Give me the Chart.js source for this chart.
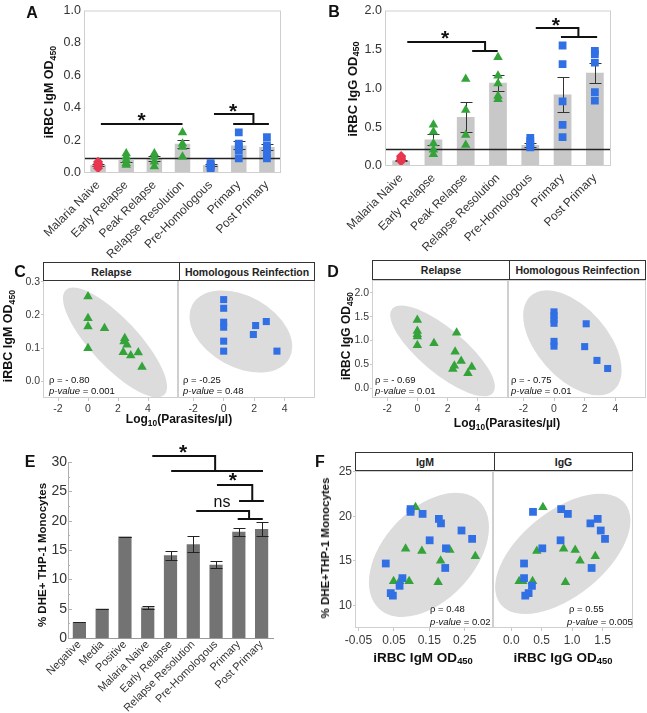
<!DOCTYPE html>
<html>
<head>
<meta charset="utf-8">
<script src="https://cdn.jsdelivr.net/npm/chart.js@4.4.1/dist/chart.umd.min.js"></script>
<style>
body { margin: 0; background: #fff; }
#fig { position: relative; width: 647px; height: 713px; overflow: hidden; font-family: "Liberation Sans", Arial, sans-serif; }
#fig canvas { position: absolute; }
.t { position: absolute; white-space: nowrap; line-height: 1; color: #111; }
.t sub { font-size: 0.7em; vertical-align: -0.25em; }
.strip { position: absolute; box-sizing: border-box; border: 1px solid #333; background: #fff; display: flex; white-space: nowrap;
  font: bold 10.5px "Liberation Sans", Arial, sans-serif; color: #222; }
.strip div { display: flex; align-items: center; justify-content: center; }
.strip div + div { border-left: 1px solid #333; }
</style>
</head>
<body>
<div id="fig"></div>
<script>
// ---- panels A and B: antibody OD per group ----
const abGroups = ['Malaria Naive', 'Early Relapse', 'Peak Relapse', 'Relapse Resolution', 'Pre-Homologous', 'Primary', 'Post Primary'];

const igmMean = [0.05, 0.08, 0.09, 0.18, 0.05, 0.17, 0.16];
const igmSem = [0.005, 0.012, 0.015, 0.025, 0.005, 0.025, 0.02];
const igmDots = [
	[0.03, 0.04, 0.05, 0.06, 0.07],
	[0.05, 0.06, 0.08, 0.10, 0.12],
	[0.04, 0.07, 0.10, 0.12],
	[0.10, 0.16, 0.18, 0.25],
	[0.03, 0.04, 0.05, 0.06],
	[0.09, 0.14, 0.16, 0.18, 0.25],
	[0.09, 0.12, 0.15, 0.17, 0.22]
];
const igmCutoff = 0.09;

const iggMean = [0.07, 0.34, 0.63, 1.07, 0.27, 0.92, 1.2];
const iggSem = [0.01, 0.075, 0.19, 0.10, 0.03, 0.22, 0.13];
const iggDots = [
	[0.06, 0.08, 0.10, 0.12, 0.13],
	[0.15, 0.21, 0.29, 0.44, 0.53],
	[0.27, 0.40, 0.72, 1.12],
	[0.86, 0.90, 1.06, 1.16, 1.40],
	[0.24, 0.27, 0.32, 0.36],
	[0.37, 0.53, 0.83, 1.31, 1.55],
	[0.84, 0.95, 1.33, 1.44, 1.48]
];
const iggCutoff = 0.22;

// ---- panels C and D: OD vs log10 parasitemia ----
const logTicks = [-2, 0, 2, 4];
const cRelX = [0, 0, 0, 0, 1.1, 2.45, 2.4, 2.6, 2.35, 2.85, 3.35, 3.6];
const cRelY = [0.255, 0.19, 0.165, 0.10, 0.16, 0.13, 0.12, 0.11, 0.088, 0.078, 0.087, 0.043];
const cHomX = [0, 0, 0, 0, 0, 0, 2.1, 1.95, 2.8, 3.5];
const cHomY = [0.246, 0.22, 0.178, 0.163, 0.121, 0.091, 0.168, 0.141, 0.18, 0.091];

const dRelX = [0, 0, 0, 0, 0, 1.1, 2.6, 2.5, 2.9, 2.45, 2.35, 3.6, 3.35];
const dRelY = [1.43, 1.2, 1.13, 1.08, 0.9, 0.94, 1.16, 0.76, 0.57, 0.47, 0.40, 0.44, 0.31];
const dHomX = [0, 0, 0, 0, 0, 0, 2.1, 2.0, 2.8, 3.5];
const dHomY = [1.6, 1.52, 1.44, 1.36, 0.98, 0.88, 1.35, 0.87, 0.58, 0.41];

// ---- panel E: DHE+ monocytes ----
const eGroups = ['Negative', 'Media', 'Positive', 'Malaria Naive', 'Early Relapse', 'Relapse Resolution', 'Pre-Homologous', 'Primary', 'Post Primary'];
const eMean = [2.7, 5.0, 17.3, 5.2, 14.1, 16.0, 12.5, 18.1, 18.6];
const eSem = [0, 0, 0, 0.3, 0.8, 1.4, 0.6, 0.7, 1.2];

// ---- panel F: DHE+ monocytes vs OD ----
const fBlueY = [20.8, 20.49, 20.26, 19.7, 19.2, 18.4, 17.46, 17.3, 16.4, 14.7, 14.2, 13.06, 12.2, 11.38, 11.1];
const fBlueIgm = [0.097, 0.097, 0.131, 0.177, 0.183, 0.241, 0.271, 0.151, 0.197, 0.027, 0.195, 0.074, 0.066, 0.041, 0.047];
const fBlueIgg = [0.82, 0.357, 0.93, 1.42, 1.30, 1.47, 1.54, 0.81, 0.51, 0.21, 1.32, 0.21, 0.34, 0.285, 0.23];
const fGreenY = [21.0, 16.35, 16.1, 16.2, 15.5, 15.0, 12.7, 12.7, 12.7, 12.6];
const fGreenIgm = [0.111, 0.083, 0.129, 0.208, 0.28, 0.182, 0.049, 0.066, 0.093, 0.175];
const fGreenIgg = [0.52, 0.86, 0.42, 1.05, 1.38, 1.13, 0.13, 0.19, 0.35, 0.89];
const fIgmTicks = [-0.05, 0.05, 0.15, 0.25];
const fIggTicks = [0, 0.5, 1.0, 1.5];
const fYTicks = [10, 15, 20, 25];

const RED = '#e8364f', GREEN = '#34a33a', BLUE = '#3170e4';
const FONT = '"Liberation Sans", Arial, sans-serif';
Chart.defaults.font.family = FONT;
Chart.defaults.color = '#3a3a3a';

const fig = document.getElementById('fig');

function txt(html, x, y, font, align, rot) {
	const d = document.createElement('div');
	d.className = 't';
	d.innerHTML = html;
	d.style.left = x + 'px';
	d.style.top = y + 'px';
	d.style.font = font + ' ' + FONT;
	const ax = align === 'left' ? '0' : align === 'right' ? '-100%' : '-50%';
	d.style.transform = 'translate(' + ax + ',-50%)' + (rot ? ' rotate(' + rot + 'deg)' : '');
	fig.appendChild(d);
}

function strip(l, t, mid, r, b, a, bTxt) {
	const d = document.createElement('div');
	d.className = 'strip';
	d.style.left = l + 'px';
	d.style.top = t + 'px';
	d.style.width = (r - l) + 'px';
	d.style.height = (b - t) + 'px';
	d.innerHTML = '<div style="width:' + (mid - l) + 'px">' + a + '</div><div style="flex:1">' + bTxt + '</div>';
	fig.appendChild(d);
}

// extra drawing: ellipse, error bars, cutoff line, frame, inner ticks, significance brackets
function extras(o) {
	return {
		id: 'extras',
		beforeDatasetsDraw(chart) {
			if (!o.ellipse) return;
			const {ctx, chartArea: a, scales: {x, y}} = chart;
			const e = o.ellipse;
			const cx = x.getPixelForValue(e.c[0]), cy = y.getPixelForValue(e.c[1]);
			const ex = x.getPixelForValue(e.end[0]), ey = y.getPixelForValue(e.end[1]);
			const r = Math.hypot(ex - cx, ey - cy);
			ctx.save();
			ctx.beginPath();
			ctx.rect(a.left, a.top, a.right - a.left, a.bottom - a.top);
			ctx.clip();
			ctx.beginPath();
			ctx.ellipse(cx, cy, r, r * e.ratio, Math.atan2(ey - cy, ex - cx), 0, Math.PI * 2);
			ctx.fillStyle = '#dcdcdc';
			ctx.fill();
			ctx.restore();
		},
		afterDatasetDraw(chart, args) {
			if (args.index !== 0 || !o.sem) return;
			const {ctx, chartArea: a, scales: {y}} = chart;
			const mean = chart.data.datasets[0].data;
			ctx.save();
			ctx.strokeStyle = o.errColor;
			ctx.lineWidth = 1;
			chart.getDatasetMeta(0).data.forEach((bar, i) => {
				const top = Math.round(y.getPixelForValue(mean[i] + o.sem[i])) + 0.5;
				const bot = Math.round(y.getPixelForValue(mean[i] - o.sem[i])) + 0.5;
				const x0 = Math.round(bar.x) + 0.5;
				ctx.beginPath();
				ctx.moveTo(x0, top); ctx.lineTo(x0, bot);
				ctx.moveTo(x0 - o.cap, top); ctx.lineTo(x0 + o.cap, top);
				ctx.moveTo(x0 - o.cap, bot); ctx.lineTo(x0 + o.cap, bot);
				ctx.stroke();
			});
			if (o.cutoff != null) {
				const yc = Math.round(y.getPixelForValue(o.cutoff)) + 0.5;
				ctx.strokeStyle = '#222';
				ctx.lineWidth = 1.5;
				ctx.beginPath();
				ctx.moveTo(a.left, yc); ctx.lineTo(a.right, yc);
				ctx.stroke();
			}
			ctx.restore();
		},
		afterDraw(chart) {
			const {ctx, chartArea: a, scales: {x, y}} = chart;
			ctx.save();
			if (o.frame) {
				ctx.strokeStyle = o.frame;
				ctx.lineWidth = 1;
				ctx.strokeRect(a.left + 0.5, a.top + 0.5, a.right - a.left - 1, a.bottom - a.top - 1);
			}
			if (o.innerTicks) {
				ctx.strokeStyle = '#b0b0b0';
				ctx.lineWidth = 1;
				const vals = y.ticks.map(t => t.value);
				ctx.beginPath();
				vals.forEach((v, i) => {
					const py = Math.round(y.getPixelForValue(v)) + 0.5;
					ctx.moveTo(a.left, py); ctx.lineTo(a.left + 4, py);
					if (i < vals.length - 1) {
						const pm = Math.round(y.getPixelForValue((v + vals[i + 1]) / 2)) + 0.5;
						ctx.moveTo(a.left, pm); ctx.lineTo(a.left + 2, pm);
					}
				});
				ctx.stroke();
			}
			(o.brackets || []).forEach(b => {
				const X = v => x.getPixelForValue(v), Y = v => Math.round(y.getPixelForValue(v));
				ctx.strokeStyle = '#111';
				ctx.lineWidth = 2;
				ctx.beginPath();
				ctx.moveTo(X(b.a1), Y(b.y1)); ctx.lineTo(X(b.b1), Y(b.y1));
				if (b.y2 != null) {
					ctx.lineTo(X(b.b1), Y(b.y2));
					ctx.moveTo(X(b.a2), Y(b.y2)); ctx.lineTo(X(b.b2), Y(b.y2));
				}
				ctx.stroke();
				ctx.fillStyle = '#111';
				ctx.textAlign = 'center';
				ctx.textBaseline = 'alphabetic';
				if (b.t === 'ns') {
					ctx.font = '16px ' + FONT;
					ctx.fillText(b.t, X(b.tx), Y(b.ty) + 4);
				} else {
					ctx.font = 'bold 21px ' + FONT;
					ctx.fillText(b.t, X(b.tx), Y(b.ty) + 9);
				}
			});
			ctx.restore();
		}
	};
}

function makeChart(box, area, cfg) {
	const cv = document.createElement('canvas');
	cv.width = box[2] - box[0];
	cv.height = box[3] - box[1];
	cv.style.left = box[0] + 'px';
	cv.style.top = box[1] + 'px';
	fig.appendChild(cv);
	const o = cfg.options;
	const yShown = o.scales.y.display !== false;
	o.responsive = false;
	o.animation = false;
	o.devicePixelRatio = 1;
	o.plugins = {legend: {display: false}, tooltip: {enabled: false}};
	o.layout = {autoPadding: false, padding: {left: yShown ? 0 : area[0] - box[0], top: area[1] - box[1], right: box[2] - area[2], bottom: 0}};
	if (yShown) o.scales.y.afterFit = s => { s.width = area[0] - box[0]; };
	o.scales.x.afterFit = s => { s.height = box[3] - area[3]; };
	return new Chart(cv, cfg);
}

function dotSet(groups, values, idx, style, color, r) {
	const pts = [];
	idx.forEach(i => values[i].forEach(v => pts.push({x: groups[i], y: v})));
	return {type: 'line', data: pts, showLine: false, pointStyle: style, pointRadius: r,
		pointBackgroundColor: color, pointBorderColor: color, pointBorderWidth: 0, order: 0};
}

function xyPoints(xs, ys) {
	return xs.map((v, i) => ({x: v, y: ys[i]}));
}

function barChart(box, area, means, dots, yMax, step, sem, cutoff, brackets) {
	makeChart(box, area, {
		type: 'bar',
		data: {
			labels: abGroups,
			datasets: [
				{data: means, backgroundColor: '#c8c8c8', barPercentage: 0.55, categoryPercentage: 1, order: 10},
				dotSet(abGroups, dots, [0], 'rectRot', RED, 5),
				dotSet(abGroups, dots, [1, 2, 3], 'triangle', GREEN, 5.5),
				dotSet(abGroups, dots, [4, 5, 6], 'rect', BLUE, 5.5)
			]
		},
		options: {
			scales: {
				x: {grid: {display: false, drawTicks: false}, border: {display: false},
					ticks: {autoSkip: false, maxRotation: 45, minRotation: 45, padding: 5, font: {size: 12}, color: '#333'}},
				y: {min: 0, max: yMax, grid: {display: false, drawTicks: false}, border: {display: false},
					ticks: {stepSize: step, padding: 3, font: {size: 12.5}, color: '#333', callback: v => v.toFixed(1)}}
			}
		},
		plugins: [extras({sem: sem, cap: 6, errColor: '#333', cutoff: cutoff, frame: '#cfcfcf', brackets: brackets})]
	});
}

function facet(box, area, sets, xr, xTicks, xDec, yr, yTicks, yDec, yShown, ellipse, fs) {
	makeChart(box, area, {
		type: 'scatter',
		data: {datasets: sets},
		options: {
			scales: {
				x: {type: 'linear', min: xr[0], max: xr[1],
					afterBuildTicks: s => { s.ticks = xTicks.map(v => ({value: v})); },
					grid: {drawOnChartArea: false, tickLength: 3, color: '#c8c8c8'}, border: {display: false},
					ticks: {padding: 2, font: {size: fs}, color: '#3a3a3a', callback: v => xDec == null ? String(v) : v.toFixed(xDec)}},
				y: {display: yShown, type: 'linear', min: yr[0], max: yr[1],
					afterBuildTicks: s => { s.ticks = yTicks.map(v => ({value: v})); },
					grid: {drawOnChartArea: false, tickLength: 2, color: '#c8c8c8'}, border: {display: false},
					ticks: {padding: 1, font: {size: fs}, color: '#3a3a3a', callback: v => yDec == null ? String(v) : v.toFixed(yDec)}}
			}
		},
		plugins: [extras({ellipse: ellipse, frame: '#cfcfcf'})]
	});
}

function scatterSet(pts, style, color, r) {
	return {data: pts, pointStyle: style, pointRadius: r, pointBackgroundColor: color, pointBorderColor: color, pointBorderWidth: 0};
}

// A
barChart([0, 0, 300, 262], [84, 7, 281, 173], igmMean, igmDots, 1, 0.2, igmSem, igmCutoff, [
	{a1: 0.1, b1: 3.0, y1: 0.30, t: '*', tx: 1.55, ty: 0.34},
	{a1: 4.12, b1: 5.52, y1: 0.365, a2: 4.8, b2: 6.07, y2: 0.30, t: '*', tx: 4.8, ty: 0.396}
]);
// B
barChart([320, 0, 640, 262], [385, 7, 611, 166], iggMean, iggDots, 2, 0.5, iggSem, iggCutoff, [
	{a1: 0.19, b1: 2.6, y1: 1.60, a2: 2.2, b2: 2.99, y2: 1.48, t: '*', tx: 1.36, ty: 1.67},
	{a1: 4.17, b1: 5.49, y1: 1.77, a2: 4.95, b2: 6.07, y2: 1.66, t: '*', tx: 4.79, ty: 1.84}
]);

// C
facet([0, 255, 178, 430], [43, 280, 178, 398],
	[scatterSet(xyPoints(cRelX, cRelY), 'triangle', GREEN, 5.5)],
	[-3, 6], logTicks, null, [-0.05, 0.305], [0, 0.1, 0.2, 0.3], 1, true,
	{c: [1.8, 0.117], end: [5.07, -0.041], ratio: 0.33}, 10.5);
facet([178, 255, 322, 430], [178, 280, 315, 398],
	[scatterSet(xyPoints(cHomX, cHomY), 'rect', BLUE, 5)],
	[-3, 6], logTicks, null, [-0.05, 0.305], [0, 0.1, 0.2, 0.3], 1, false,
	{c: [1.13, 0.15], end: [4.31, 0.069], ratio: 0.64}, 10.5);

// D
facet([325, 255, 508, 430], [372, 280, 508, 398],
	[scatterSet(xyPoints(dRelX, dRelY), 'triangle', GREEN, 5.5)],
	[-3, 6], logTicks, null, [-0.21, 2.27], [0, 0.5, 1.0, 1.5, 2.0], 1, true,
	{c: [1.67, 0.78], end: [5.0, -0.105], ratio: 0.34}, 10.5);
facet([508, 255, 647, 430], [508, 280, 646, 398],
	[scatterSet(xyPoints(dHomX, dHomY), 'rect', BLUE, 5)],
	[-3, 6], logTicks, null, [-0.21, 2.27], [0, 0.5, 1.0, 1.5, 2.0], 1, false,
	{c: [1.2, 0.95], end: [3.91, -0.04], ratio: 0.56}, 10.5);

// E
makeChart([0, 440, 300, 713], [68, 462, 273, 638], {
	type: 'bar',
	data: {labels: eGroups, datasets: [{data: eMean, backgroundColor: '#737373', barPercentage: 0.58, categoryPercentage: 1}]},
	options: {
		scales: {
			x: {grid: {display: false, drawTicks: false}, border: {display: true, color: '#9a9a9a'},
				ticks: {autoSkip: false, maxRotation: 45, minRotation: 45, padding: 0, font: {size: 11}, color: '#333'}},
			y: {min: 0, max: 30, grid: {display: false, drawTicks: false}, border: {display: true, color: '#b0b0b0'},
				ticks: {stepSize: 5, padding: 1, font: {size: 14}, color: '#333'}}
		}
	},
	plugins: [extras({sem: eSem, cap: 6, errColor: '#222', innerTicks: true, brackets: [
		{a1: 3.2, b1: 5.96, y1: 31.0, a2: 4.03, b2: 8.06, y2: 28.4, t: '*', tx: 4.55, ty: 32.0},
		{a1: 6.04, b1: 7.59, y1: 26.1, a2: 7.01, b2: 8.1, y2: 23.4, t: '*', tx: 6.74, ty: 27.2},
		{a1: 5.13, b1: 7.45, y1: 21.7, a2: 6.95, b2: 8.05, y2: 20.25, t: 'ns', tx: 6.26, ty: 22.95}
	]})]
});

// F
facet([322, 445, 493, 650], [355, 471, 493, 628],
	[scatterSet(xyPoints(fBlueIgm, fBlueY), 'rect', BLUE, 5.5), scatterSet(xyPoints(fGreenIgm, fGreenY), 'triangle', GREEN, 5.5)],
	[-0.06, 0.33], fIgmTicks, 2, [7.47, 25.07], fYTicks, null, true,
	{c: [0.149, 15.67], end: [0.29, 21.7], ratio: 0.62}, 12);
facet([493, 445, 647, 650], [493, 471, 633, 628],
	[scatterSet(xyPoints(fBlueIgg, fBlueY), 'rect', BLUE, 5.5), scatterSet(xyPoints(fGreenIgg, fGreenY), 'triangle', GREEN, 5.5)],
	[-0.3, 2.0], fIggTicks, 1, [7.47, 25.07], fYTicks, null, false,
	{c: [0.846, 15.78], end: [1.867, 21.42], ratio: 0.53}, 12);

// strips
strip(43, 262, 178, 315, 281, 'Relapse', 'Homologous Reinfection');
strip(372, 260, 508, 646, 280, 'Relapse', 'Homologous Reinfection');
strip(355, 452, 493, 633, 471, 'IgM', 'IgG');

// panel letters
txt('A', 32, 13, 'bold 16px');
txt('B', 334, 12, 'bold 16px');
txt('C', 20, 272, 'bold 16px');
txt('D', 333, 272, 'bold 16px');
txt('E', 30, 462, 'bold 16px');
txt('F', 320, 462, 'bold 16px');

// axis titles
txt('iRBC IgM OD<sub>450</sub>', 50, 92, 'bold 12.5px', 'center', -90);
txt('iRBC IgG OD<sub>450</sub>', 353, 89, 'bold 13px', 'center', -90);
txt('iRBC IgM OD<sub>450</sub>', 9, 336, 'bold 12.5px', 'center', -90);
txt('iRBC IgG OD<sub>450</sub>', 347, 336, 'bold 12px', 'center', -90);
txt('Log<sub>10</sub>(Parasites/µl)', 179, 420, 'bold 12px');
txt('Log<sub>10</sub>(Parasites/µl)', 507, 424, 'bold 12px');
txt('% DHE+ THP-1 Monocytes', 42, 555, 'bold 11.5px', 'center', -90);
txt('% DHE+THP-1 Monocytes', 325, 548, 'bold 11.5px', 'center', -90);
txt('iRBC IgM OD<sub>450</sub>', 423, 658, 'bold 13.5px');
txt('iRBC IgG OD<sub>450</sub>', 563, 658, 'bold 13.5px');

// correlation stats
const st = '9.5px';
txt('ρ = - 0.80', 49, 379, st, 'left');
txt('<i>p-value</i> = 0.001', 49, 390, st, 'left');
txt('ρ = -0.25', 183, 379, st, 'left');
txt('<i>p-value</i> = 0.48', 183, 390, st, 'left');
txt('ρ = - 0.69', 375, 379, st, 'left');
txt('<i>p-value</i> = 0.01', 375, 390, st, 'left');
txt('ρ = - 0.75', 511, 379, st, 'left');
txt('<i>p-value</i> = 0.01', 511, 390, st, 'left');
txt('ρ = 0.48', 430, 608, st, 'left');
txt('<i>p-value</i> = 0.02', 430, 621, st, 'left');
txt('ρ = 0.55', 569, 608, st, 'left');
txt('<i>p-value</i> = 0.005', 567, 621, st, 'left');
</script>
</body>
</html>
